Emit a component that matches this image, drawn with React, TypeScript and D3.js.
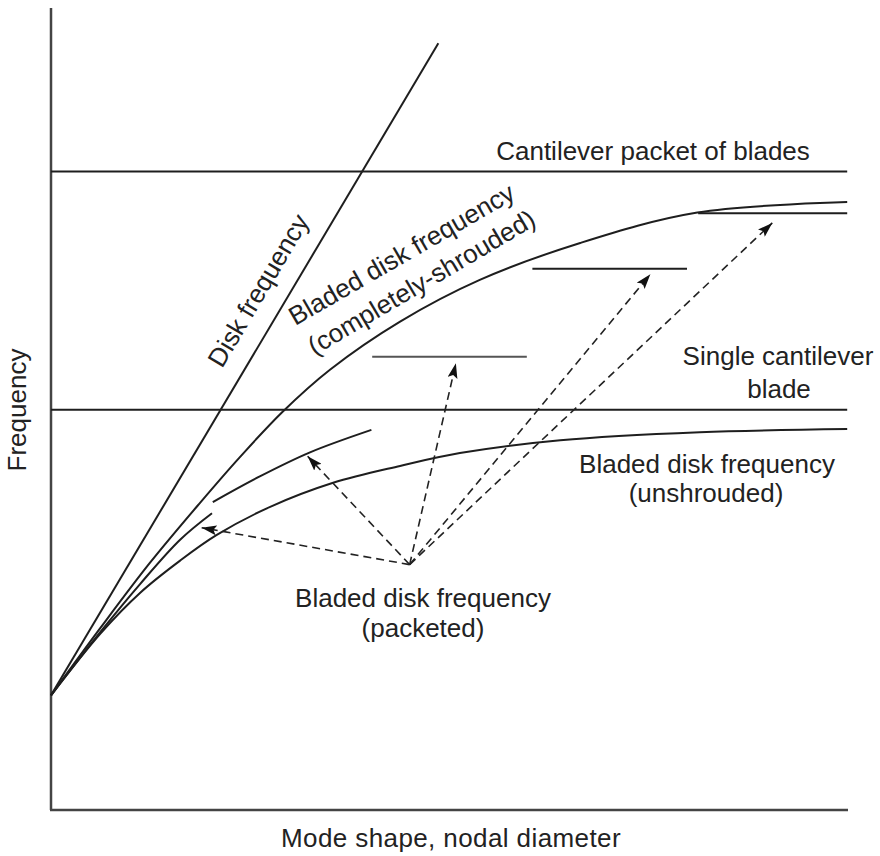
import * as d3 from 'd3';
import React from 'react';

// all values in arbitrary units (0-100)
const shroudedX = [0, 6.2, 12.4, 18.7, 23.7, 29.0, 35.0, 43.8, 53.8, 66.4, 81.1, 99.9];
const shroudedY = [14.3, 22.7, 30.8, 38.3, 44.0, 49.6, 54.9, 60.9, 66.1, 70.7, 74.5, 75.8];

const unshroudedX = [0, 6.2, 11.2, 16.2, 20.8, 27.5, 35.4, 43.8, 51.3, 63.9, 81.4, 99.9];
const unshroudedY = [14.3, 22.0, 27.1, 31.1, 34.3, 37.8, 40.8, 42.9, 44.5, 46.1, 47.1, 47.5];

// packeted bladed disk: broken into steps
const packetX = [
  [0, 6.2, 11.2, 16.2, 20.2],
  [20.3, 26.2, 32.5, 40.2],
  [40.3, 59.7],
  [60.4, 79.8],
  [81.2, 99.9],
];
const packetY = [
  [14.3, 22.2, 28.2, 33.7, 37.0],
  [38.4, 41.6, 44.6, 47.4],
  [56.5, 56.5],
  [67.5, 67.5],
  [74.4, 74.4],
];

const diskX = [0, 48.6];
const diskY = [14.3, 95.6];

const cantileverPacket = 79.6;
const singleBlade = 49.9;

const arrowFrom = [45.0, 30.6];
const arrowToX = [18.9, 32.2, 50.8, 75.2, 90.5];
const arrowToY = [35.2, 44.1, 55.7, 66.8, 73.2];

const W = 880, H = 856;

function App() {
  const x = d3.scaleLinear().domain([0, 100]).range([51, 848]);
  const y = d3.scaleLinear().domain([0, 100]).range([810, 8]);

  const line = d3.line<[number, number]>()
    .x(d => x(d[0]))
    .y(d => y(d[1]))
    .curve(d3.curveCatmullRom.alpha(0.5));

  const zip = (xs: number[], ys: number[]) => xs.map((v, i) => [v, ys[i]] as [number, number]);

  const stroke = '#1e1e1e';
  const font = 'Liberation Sans, Arial, sans-serif';
  const fs = 26;

  return (
    <svg width={W} height={H} style={{ display: 'block', position: 'absolute', left: 0, top: 0, background: '#fff' }}>
      <defs>
        <marker id="head" viewBox="0 0 15 10" refX="15" refY="5" markerWidth="15" markerHeight="10"
          markerUnits="userSpaceOnUse" orient="auto">
          <path d="M0,0 L15,5 L0,10 L3,5 Z" fill="#111" />
        </marker>
      </defs>

      {/* axes */}
      <line x1={x(0)} x2={x(0)} y1={y(100)} y2={y(0)} stroke="#444" strokeWidth={2.5} />
      <line x1={x(0) - 1} x2={x(100)} y1={y(0)} y2={y(0)} stroke="#444" strokeWidth={2.5} />

      {/* horizontal references */}
      <line x1={x(0)} x2={x(99.9)} y1={y(cantileverPacket)} y2={y(cantileverPacket)} stroke={stroke} strokeWidth={2} />
      <line x1={x(0)} x2={x(99.9)} y1={y(singleBlade)} y2={y(singleBlade)} stroke={stroke} strokeWidth={2} />

      {/* curves */}
      <path d={line(zip(diskX, diskY))!} fill="none" stroke={stroke} strokeWidth={2} />
      <path d={line(zip(shroudedX, shroudedY))!} fill="none" stroke={stroke} strokeWidth={2} />
      <path d={line(zip(unshroudedX, unshroudedY))!} fill="none" stroke={stroke} strokeWidth={2} />
      {packetX.map((xs, i) => (
        <path key={i} d={line(zip(xs, packetY[i]))!} fill="none" stroke={i === 2 ? '#555' : stroke} strokeWidth={2} />
      ))}

      {/* arrows */}
      {arrowToX.map((tx, i) => (
        <line key={i} x1={x(arrowFrom[0])} y1={y(arrowFrom[1])} x2={x(tx)} y2={y(arrowToY[i])}
          stroke="#222" strokeWidth={1.6} strokeDasharray="8,5" markerEnd="url(#head)" />
      ))}

      <g fontFamily={font} fontSize={fs} fill="#222">
        <text x={653} y={160} textAnchor="middle">Cantilever packet of blades</text>
        <text x={778} y={365} textAnchor="middle">Single cantilever</text>
        <text x={779} y={398} textAnchor="middle">blade</text>
        <text x={707} y={473} textAnchor="middle">Bladed disk frequency</text>
        <text x={706} y={502} textAnchor="middle">(unshrouded)</text>
        <text x={423} y={607} textAnchor="middle">Bladed disk frequency</text>
        <text x={423} y={637} textAnchor="middle">(packeted)</text>
        <text x={451} y={847} textAnchor="middle" letterSpacing={0.4}>Mode shape, nodal diameter</text>
        <text transform="translate(26,410) rotate(-90)" textAnchor="middle">Frequency</text>
        <text transform="translate(266,295) rotate(-59.3)" textAnchor="middle">Disk frequency</text>
        <text transform="translate(406,262) rotate(-30)" textAnchor="middle">Bladed disk frequency</text>
        <text transform="translate(426,290) rotate(-30.5)" textAnchor="middle">(completely-shrouded)</text>
      </g>
    </svg>
  );
}

export default App;
